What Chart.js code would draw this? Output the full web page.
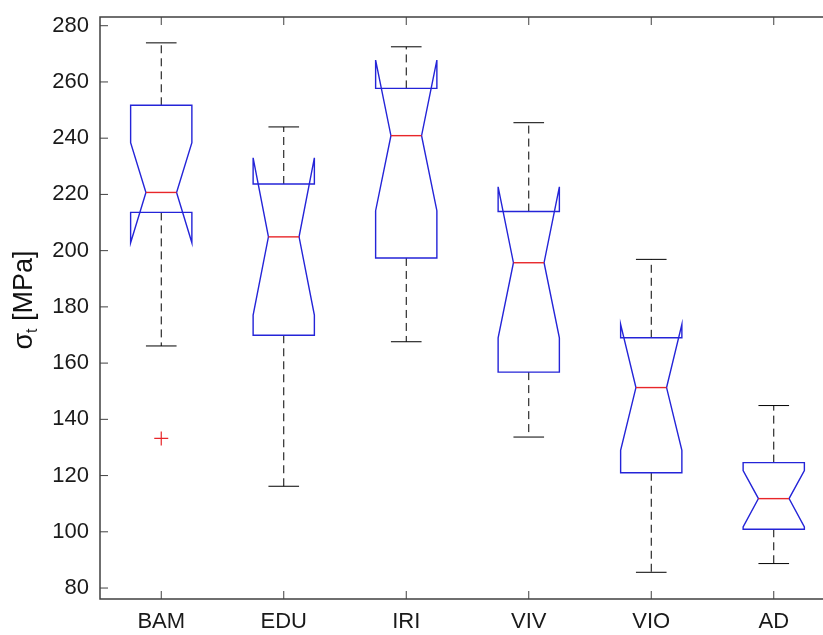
<!DOCTYPE html>
<html>
<head>
<meta charset="UTF-8">
<title>Notched boxplot</title>
<script src="https://cdn.jsdelivr.net/npm/chart.js"></script>
<style>
  html, body { margin: 0; padding: 0; background: #fff; overflow: hidden; }
  canvas { display: block; }
</style>
</head>
<body>
<canvas id="chartCanvas" width="850" height="635"></canvas>
<script>
// values (MPa)
const categories  = ['BAM', 'EDU', 'IRI', 'VIV', 'VIO', 'AD'];
const whiskerHigh = [273.9, 244.0, 272.5, 245.5, 196.9, 144.9];
const q3          = [251.7, 223.7, 257.7, 213.9, 169.0, 124.6];
const notchHigh   = [238.4, 233.0, 267.8, 222.7, 173.8, 121.8];
const median      = [220.7, 204.9, 240.9, 195.7, 151.3, 111.8];
const notchLow    = [202.8, 177.1, 214.2, 169.0, 129.0, 101.7];
const q1          = [213.6, 169.9, 197.4, 156.8, 121.0, 100.9];
const whiskerLow  = [166.1, 116.2, 167.6, 133.7,  85.6,  88.7];
const outlierCat  = [1];
const outlierVal  = [133.2];
const yTicks      = [80, 100, 120, 140, 160, 180, 200, 220, 240, 260, 280];

const FONT = '"Liberation Sans", Arial, sans-serif';
const AXIS_COLOR = '#404040';

const boxPlugin = {
  id: 'notchBoxes',
  afterDatasetsDraw(chart) {
    const { ctx, scales: { x, y } } = chart;
    const w = 0.25;
    ctx.save();
    categories.forEach((c, i) => {
      const cx = i + 1;
      const px = v => x.getPixelForValue(v);
      const py = v => y.getPixelForValue(v);

      // dashed whiskers
      ctx.strokeStyle = '#000';
      ctx.lineWidth = 1;
      ctx.setLineDash([8, 5]);
      ctx.beginPath();
      ctx.moveTo(px(cx), py(q3[i]));
      ctx.lineTo(px(cx), py(whiskerHigh[i]));
      ctx.moveTo(px(cx), py(q1[i]));
      ctx.lineTo(px(cx), py(whiskerLow[i]));
      ctx.stroke();
      ctx.setLineDash([]);

      // caps
      ctx.beginPath();
      ctx.moveTo(px(cx - w / 2), py(whiskerHigh[i]));
      ctx.lineTo(px(cx + w / 2), py(whiskerHigh[i]));
      ctx.moveTo(px(cx - w / 2), py(whiskerLow[i]));
      ctx.lineTo(px(cx + w / 2), py(whiskerLow[i]));
      ctx.stroke();

      // notched box
      ctx.strokeStyle = '#2424d8';
      ctx.lineWidth = 1.4;
      ctx.beginPath();
      ctx.moveTo(px(cx - w), py(q1[i]));
      ctx.lineTo(px(cx - w), py(notchLow[i]));
      ctx.lineTo(px(cx - w / 2), py(median[i]));
      ctx.lineTo(px(cx - w), py(notchHigh[i]));
      ctx.lineTo(px(cx - w), py(q3[i]));
      ctx.lineTo(px(cx + w), py(q3[i]));
      ctx.lineTo(px(cx + w), py(notchHigh[i]));
      ctx.lineTo(px(cx + w / 2), py(median[i]));
      ctx.lineTo(px(cx + w), py(notchLow[i]));
      ctx.lineTo(px(cx + w), py(q1[i]));
      ctx.closePath();
      ctx.stroke();

      // median
      ctx.strokeStyle = '#e8262a';
      ctx.beginPath();
      ctx.moveTo(px(cx - w / 2), py(median[i]));
      ctx.lineTo(px(cx + w / 2), py(median[i]));
      ctx.stroke();
    });
    ctx.restore();
  },
  afterDraw(chart) {
    const { ctx, chartArea: a, scales: { x, y } } = chart;
    const tl = 8;
    ctx.save();
    // axes frame (the right side falls outside the window)
    ctx.strokeStyle = AXIS_COLOR;
    ctx.lineWidth = 1.5;
    ctx.beginPath();
    ctx.moveTo(a.right, a.top);
    ctx.lineTo(a.left, a.top);
    ctx.lineTo(a.left, a.bottom);
    ctx.lineTo(a.right, a.bottom);
    ctx.stroke();
    // inward ticks
    ctx.lineWidth = 1;
    ctx.beginPath();
    yTicks.forEach(v => {
      const p = y.getPixelForValue(v);
      ctx.moveTo(a.left, p);
      ctx.lineTo(a.left + tl, p);
    });
    categories.forEach((c, i) => {
      const p = x.getPixelForValue(i + 1);
      ctx.moveTo(p, a.bottom);
      ctx.lineTo(p, a.bottom - tl);
      ctx.moveTo(p, a.top);
      ctx.lineTo(p, a.top + tl);
    });
    ctx.stroke();

    // y axis title: sigma with subscript t
    ctx.fillStyle = '#111';
    ctx.translate(25, 300);
    ctx.rotate(-Math.PI / 2);
    ctx.textBaseline = 'middle';
    const big = '27px ' + FONT, small = '16px ' + FONT;
    ctx.font = big;
    const wSig = ctx.measureText('σ').width;
    const wRest = ctx.measureText(' [MPa]').width;
    ctx.font = small;
    const wT = ctx.measureText('t').width;
    let sx = -(wSig + wT + wRest) / 2;
    ctx.font = big;
    ctx.fillText('σ', sx, 0);
    sx += wSig;
    ctx.font = small;
    ctx.fillText('t', sx, 8);
    sx += wT;
    ctx.font = big;
    ctx.fillText(' [MPa]', sx, 0);
    ctx.restore();
  }
};

new Chart(document.getElementById('chartCanvas'), {
  type: 'scatter',
  data: {
    datasets: [{
      label: 'outliers',
      data: outlierCat.map((c, i) => ({ x: c, y: outlierVal[i] })),
      pointStyle: 'cross',
      radius: 7,
      borderColor: '#e8262a',
      borderWidth: 1.2
    }]
  },
  options: {
    responsive: false,
    animation: false,
    layout: { padding: { left: 0, top: 17, right: 15, bottom: 0 } },
    plugins: { legend: { display: false }, tooltip: { enabled: false } },
    scales: {
      x: {
        type: 'linear',
        min: 0.5,
        max: 6.5,
        afterBuildTicks: s => { s.ticks = categories.map((c, i) => ({ value: i + 1 })); },
        afterFit: s => { s.height = 36; s.paddingLeft = 0; s.paddingRight = 0; },
        grid: { display: false, drawTicks: false },
        border: { display: false },
        ticks: {
          padding: 10,
          autoSkip: false,
          maxRotation: 0,
          color: '#1a1a1a',
          font: { family: FONT, size: 22 },
          callback: v => categories[v - 1]
        }
      },
      y: {
        min: 76.1,
        max: 283.1,
        afterBuildTicks: s => { s.ticks = yTicks.map(v => ({ value: v })); },
        afterFit: s => { s.width = 100; s.paddingTop = 0; s.paddingBottom = 0; },
        grid: { display: false, drawTicks: false },
        border: { display: false },
        ticks: {
          padding: 11,
          color: '#1a1a1a',
          font: { family: FONT, size: 22 }
        }
      }
    }
  },
  plugins: [boxPlugin]
});
</script>
</body>
</html>
